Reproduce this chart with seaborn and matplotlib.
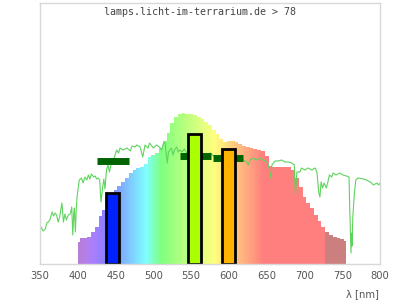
import numpy as np
import pandas as pd
import matplotlib
matplotlib.use("Agg")
import matplotlib.pyplot as plt
import seaborn as sns

# ---------------- data ----------------
title_text = "lamps.licht-im-terrarium.de > 78"
x_ticks = [350, 400, 450, 500, 550, 600, 650, 700, 750, 800]
x_label = "λ [nm]"

# lamp spectrum (relative), 5 nm steps
lamp_wl = [400, 405, 410, 415, 420, 425, 430, 435, 440, 445, 450, 455, 460, 465,
           470, 475, 480, 485, 490, 495, 500, 505, 510, 515, 520, 525, 530, 535,
           540, 545, 550, 555, 560, 565, 570, 575, 580, 585, 590, 595, 600, 605,
           610, 615, 620, 625, 630, 635, 640, 645, 650, 655, 660, 665, 670, 675,
           680, 685, 690, 695, 700, 705, 710, 715, 720, 725, 730, 735, 740, 745,
           750, 755]
lamp_val = [22, 26, 26, 27, 32, 37, 48, 54, 62, 68, 74, 78, 82, 86,
            91, 94, 96, 97, 100, 107, 109, 111, 116, 123, 131, 141, 147, 150,
            151, 150, 150, 149, 147, 145, 142, 139, 134, 130, 125, 122, 123, 123,
            122, 120, 118, 117, 116, 115, 114, 113, 108, 98, 97, 97, 97, 97,
            97, 94, 86, 77, 67, 61, 56, 49, 43, 37, 32, 29, 27, 26,
            25, 23]

# daylight reference spectrum
sun_wl = [350, 352, 354, 357, 359, 361, 363, 366, 368, 370, 372, 374, 376, 379,
          381, 383, 385, 387.5, 390, 392, 393.4, 394.6, 395.5, 396.8, 398, 399, 402,
          405, 407, 409.5, 412, 414, 416, 418, 421, 423, 425, 427, 429, 430.7,
          433, 434.5, 436, 438, 440, 442, 444, 447, 449, 451.5, 454, 456, 460,
          465, 469.5, 472, 476, 478, 482.5, 486, 489, 493, 495, 500, 504, 508,
          511, 513, 515.4, 517, 518.5, 520, 522, 524, 526, 528, 531, 533, 535,
          538, 541, 545, 550, 555, 560, 565, 570.6, 575, 580, 585, 590, 595,
          600, 605, 610, 615, 619, 623.6, 625.7, 628, 632, 637, 641, 645.5, 650,
          652, 655.7, 657, 661, 665, 670, 674, 679, 683, 686.6, 688, 690, 694,
          696, 700.7, 705, 709.6, 714, 716.5, 719, 720.5, 722, 724, 726, 729,
          731, 733, 736, 738, 742, 746.5, 751, 755.5, 759, 760, 761.6, 762.5,
          763, 764, 766, 768, 771, 778, 782, 787, 789, 791, 796, 798.5, 800]
sun_val = [39, 36, 33, 35, 41, 42, 44, 52, 48, 51, 49, 42, 47, 61,
           42, 50, 44, 49, 50, 57, 29, 50, 56, 32, 55, 67, 84,
           86, 81, 87, 84, 89, 85, 90, 87, 88, 85, 86, 84, 62,
           77, 85, 75, 94, 99, 92, 100, 104, 108, 114, 111, 116, 114,
           116, 113, 118, 117, 119, 117, 107, 119, 116, 121, 116, 119, 117,
           114, 120, 122, 110, 101, 112, 114, 116, 109, 114, 117, 112, 114,
           112, 115, 110, 108, 107, 109, 106, 106, 111, 108, 107, 105, 108,
           106, 107, 105, 106, 104, 102, 99, 104, 106, 104, 106, 104, 102,
           100, 86, 99, 103, 103, 104, 102, 102, 101, 99, 69, 92, 92,
           96, 94, 96, 94, 96, 92, 71, 67, 82, 76, 81, 76,
           82, 89, 87, 91, 89, 91, 89, 88, 87, 54, 11, 31,
           18, 47, 70, 84, 86, 85, 84, 82, 81, 79, 81, 79, 81]

# LED-type bars
bar_center = [446, 555, 600]
bar_height = [71, 130, 115]
bar_colors = ["#0022ff", "#aaff00", "#ffb300"]

# horizontal markers
marker_lo = [425, 535, 579]
marker_hi = [468, 576, 619]
marker_val = [103.5, 108.5, 105.7]


# ---------------- helpers ----------------
def wl_rgb(w):
    if w < 440:
        r, g, b = -(w - 440) / 60.0, 0.0, 1.0
    elif w < 490:
        r, g, b = 0.0, (w - 440) / 50.0, 1.0
    elif w < 510:
        r, g, b = 0.0, 1.0, -(w - 510) / 20.0
    elif w < 580:
        r, g, b = (w - 510) / 70.0, 1.0, 0.0
    elif w < 645:
        r, g, b = 1.0, -(w - 645) / 65.0, 0.0
    else:
        r, g, b = 1.0, 0.0, 0.0
    if w < 420:
        f = 0.3 + 0.7 * (w - 380) / 40.0
    elif w > 727:
        f = 0.6
    else:
        f = 1.0
    return [0.5 + 0.5 * r * f, 0.5 + 0.5 * g * f, 0.5 + 0.5 * b * f]


# ---------------- plot ----------------
sns.set_style("white")
plt.rcParams["font.family"] = ["DejaVu Sans"]

fig = plt.figure(figsize=(4, 3), dpi=100)
ax = fig.add_axes([0.1, 0.12, 0.85, 0.87])

ax.set_xlim(350, 800)
ax.set_ylim(0, 261)

# gradient-filled lamp spectrum
poly = ax.fill_between(lamp_wl, 0, lamp_val, step="mid", color="none", lw=0)
wl_grid = np.arange(lamp_wl[0] - 2.5, lamp_wl[-1] + 2.5, 0.5)
grad = np.array([[wl_rgb(w) for w in wl_grid]])
img = ax.imshow(grad, extent=[wl_grid[0], wl_grid[-1], 0, max(lamp_val) + 5],
                aspect="auto", origin="lower", zorder=1, interpolation="nearest")
path = poly.get_paths()[0]
img.set_clip_path(path, transform=ax.transData)

# daylight line
sun_df = pd.DataFrame({"wl": sun_wl, "val": sun_val})
sns.lineplot(data=sun_df, x="wl", y="val", ax=ax, color="#5ed35e", lw=0.8,
             zorder=2, sort=False)

# markers
ax.hlines(marker_val, marker_lo, marker_hi, colors="#006400", lw=5, zorder=3)

# bars
ax.bar(bar_center, bar_height, width=17, color=bar_colors, edgecolor="black",
       linewidth=2, zorder=4)

ax.set_xticks(x_ticks)
ax.set_xticklabels([str(t) for t in x_ticks], fontsize=7.2, color="#555555")
ax.set_yticks([])
ax.tick_params(axis="x", length=0, pad=5)
ax.set_xlabel("")
ax.set_ylabel("")
for s in ax.spines.values():
    s.set_color("#d8d8d8")
    s.set_linewidth(1)
    s.set_zorder(5)

ax.text(0.47, 0.985, title_text, transform=ax.transAxes, ha="center", va="top",
        fontsize=7.2, family="DejaVu Sans Mono", color="#444444")
fig.text(0.948, 0.02, x_label, ha="right", va="center", fontsize=7.2,
         color="#555555")

fig.savefig("out.png", dpi=100)
